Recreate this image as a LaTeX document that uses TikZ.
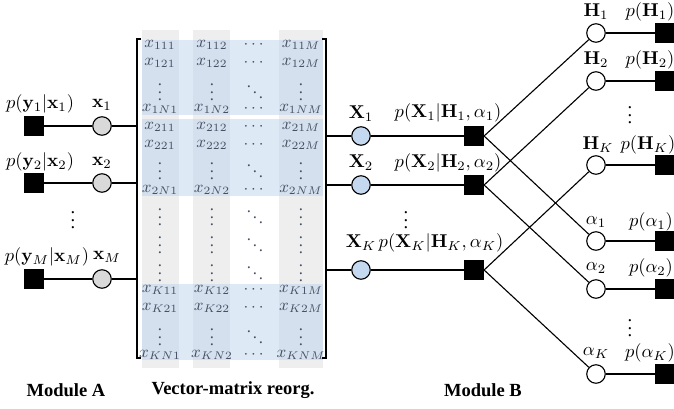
\documentclass[tikz,border=0pt]{standalone}
\usepackage[no-math]{fontspec}
\setmainfont{Liberation Serif}
\usepackage{amsmath}
\definecolor{colgray}{RGB}{238,238,238}
\definecolor{blockblue}{RGB}{189,212,238}
\definecolor{obsgray}{RGB}{217,217,217}
\definecolor{latblue}{RGB}{196,216,240}
\definecolor{entrycol}{RGB}{70,80,100}
\begin{document}
\begin{tikzpicture}[x=0.54pt,y=-0.54pt,line width=0.6pt,
    factor/.style={draw,fill=black,minimum size=10.3pt,inner sep=0pt},
    var/.style={draw,circle,minimum size=10pt,inner sep=0pt},
    obs/.style={var,fill=obsgray},
    lat/.style={var,fill=latblue},
    prm/.style={var,fill=white},
    entry/.style={text=entrycol,font=\small,inner sep=0pt},
    vdot/.style={inner sep=0pt},
    lbl/.style={inner sep=1pt},
    caption/.style={font=\bfseries}]
    \useasboundingbox (0,0) rectangle (674,409);

    % matrix background
    \fill[colgray] (142,30) rectangle (179,368);
    \fill[colgray] (193,30) rectangle (230,368);
    \fill[colgray] (279,30) rectangle (323,368);
    \fill[blockblue,opacity=0.5] (142,40) rectangle (323,115);
    \fill[blockblue,opacity=0.5] (142,119) rectangle (323,196);
    \fill[blockblue,opacity=0.5] (142,284) rectangle (323,360);

    % matrix entries
    \foreach \b/\ya/\yb/\yc/\yd in {1/45/63/87/109, 2/127/145/166/190, K/290/308/332/355} {
        \node[entry] (m\b11) at (160,\ya) {$x_{\b 11}$};
        \node[entry] (m\b12) at (212,\ya) {$x_{\b 12}$};
        \node[entry] (m\b13) at (255,\ya) {$\cdots$};
        \node[entry] (m\b1M) at (301,\ya) {$x_{\b 1M}$};
        \node[entry] (m\b21) at (160,\yb) {$x_{\b 21}$};
        \node[entry] (m\b22) at (212,\yb) {$x_{\b 22}$};
        \node[entry] (m\b23) at (255,\yb) {$\cdots$};
        \node[entry] (m\b2M) at (301,\yb) {$x_{\b 2M}$};
        \node[entry] (m\b31) at (160,\yc) {$\vdots$};
        \node[entry] (m\b32) at (212,\yc) {$\vdots$};
        \node[entry] (m\b33) at (255,\yc) {$\ddots$};
        \node[entry] (m\b3M) at (301,\yc) {$\vdots$};
        \node[entry] (m\b N1) at (160,\yd) {$x_{\b N1}$};
        \node[entry] (m\b N2) at (212,\yd) {$x_{\b N2}$};
        \node[entry] (m\b N3) at (255,\yd) {$\cdots$};
        \node[entry] (m\b NM) at (301,\yd) {$x_{\b NM}$};
    }
    \foreach \y/\r in {212/a, 240/b, 268/c} {
        \node[entry] (v\r1) at (160,\y) {$\vdots$};
        \node[entry] (v\r2) at (212,\y) {$\vdots$};
        \node[entry] (v\r3) at (255,\y) {$\ddots$};
        \node[entry] (v\r4) at (301,\y) {$\vdots$};
    }

    % brackets
    \draw (141,39) -- (137,39) -- (137,358) -- (141,358);
    \draw (322,39) -- (326,39) -- (326,358) -- (322,358);
    \coordinate (in1) at (137,126);
    \coordinate (in2) at (137,183);
    \coordinate (inM) at (137,279);
    \coordinate (out1) at (326,136);
    \coordinate (out2) at (326,185);
    \coordinate (outK) at (326,270);

    % module A
    \node[factor] (fy1) at (34,126) {};
    \node[factor] (fy2) at (34,183) {};
    \node[factor] (fyM) at (34,279) {};
    \node[obs] (x1) at (102,126) {};
    \node[obs] (x2) at (102,183) {};
    \node[obs] (xM) at (102,279) {};
    \draw (fy1) -- (x1) -- (in1);
    \draw (fy2) -- (x2) -- (in2);
    \draw (fyM) -- (xM) -- (inM);
    \node[lbl] (ly1) at (40,104) {$p(\mathbf{y}_1|\mathbf{x}_1)$};
    \node[lbl] (ly2) at (40,162) {$p(\mathbf{y}_2|\mathbf{x}_2)$};
    \node[lbl] (lyM) at (47,257) {$p(\mathbf{y}_M|\mathbf{x}_M)$};
    \node[lbl] (lx1) at (102,105) {$\mathbf{x}_1$};
    \node[lbl] (lx2) at (102,163) {$\mathbf{x}_2$};
    \node[lbl] (lxM) at (107,257) {$\mathbf{x}_M$};
    \node[vdot] (dA) at (73,215) {$\vdots$};

    % module B
    \node[lat] (X1) at (361,136) {};
    \node[lat] (X2) at (361,185) {};
    \node[lat] (XK) at (361,270) {};
    \node[factor] (fX1) at (474,136) {};
    \node[factor] (fX2) at (474,185) {};
    \node[factor] (fXK) at (474,270) {};
    \draw (out1) -- (X1) -- (fX1);
    \draw (out2) -- (X2) -- (fX2);
    \draw (outK) -- (XK) -- (fXK);
    \node[lbl] (lX1) at (361,114) {$\mathbf{X}_1$};
    \node[lbl] (lX2) at (361,163) {$\mathbf{X}_2$};
    \node[lbl] (lXK) at (361,243) {$\mathbf{X}_K$};
    \node[lbl] (lf1) at (448,113) {$p(\mathbf{X}_1|\mathbf{H}_1,\alpha_1)$};
    \node[lbl] (lf2) at (448,163) {$p(\mathbf{X}_2|\mathbf{H}_2,\alpha_2)$};
    \node[lbl] (lfK) at (441,243) {$p(\mathbf{X}_K|\mathbf{H}_K,\alpha_K)$};
    \node[vdot] (dB) at (406,215) {$\vdots$};

    \node[prm] (H1) at (596,33) {};
    \node[prm] (H2) at (596,81) {};
    \node[prm] (HK) at (596,165) {};
    \node[prm] (a1) at (596,241) {};
    \node[prm] (a2) at (596,289) {};
    \node[prm] (aK) at (596,374) {};
    \node[factor] (pH1) at (665,33) {};
    \node[factor] (pH2) at (665,81) {};
    \node[factor] (pHK) at (665,165) {};
    \node[factor] (pa1) at (665,241) {};
    \node[factor] (pa2) at (665,289) {};
    \node[factor] (paK) at (665,374) {};
    \draw (H1) -- (pH1);
    \draw (H2) -- (pH2);
    \draw (HK) -- (pHK);
    \draw (a1) -- (pa1);
    \draw (a2) -- (pa2);
    \draw (aK) -- (paK);
    \draw (fX1.east) -- (H1);
    \draw (fX1.east) -- (a1);
    \draw (fX2.east) -- (H2);
    \draw (fX2.east) -- (a2);
    \draw (fXK.east) -- (HK);
    \draw (fXK.east) -- (aK);

    \node[lbl] (lH1) at (596,12) {$\mathbf{H}_1$};
    \node[lbl] (lH2) at (596,60) {$\mathbf{H}_2$};
    \node[lbl] (lHK) at (598,145) {$\mathbf{H}_K$};
    \node[lbl] (la1) at (596,222) {$\alpha_1$};
    \node[lbl] (la2) at (596,268) {$\alpha_2$};
    \node[lbl] (laK) at (596,353) {$\alpha_K$};
    \node[lbl] (lpH1) at (650,12) {$p(\mathbf{H}_1)$};
    \node[lbl] (lpH2) at (650,60) {$p(\mathbf{H}_2)$};
    \node[lbl] (lpHK) at (648,145) {$p(\mathbf{H}_K)$};
    \node[lbl] (lpa1) at (651,222) {$p(\alpha_1)$};
    \node[lbl] (lpa2) at (651,268) {$p(\alpha_2)$};
    \node[lbl] (lpaK) at (650,353) {$p(\alpha_K)$};
    \node[vdot] (dH) at (630,110) {$\vdots$};
    \node[vdot] (da) at (630,323) {$\vdots$};

    % captions
    \node[caption] (capA) at (66,390) {Module A};
    \node[caption] (capM) at (233,390) {Vector-matrix reorg.};
    \node[caption] (capB) at (483,390) {Module B};
\end{tikzpicture}
\end{document}
